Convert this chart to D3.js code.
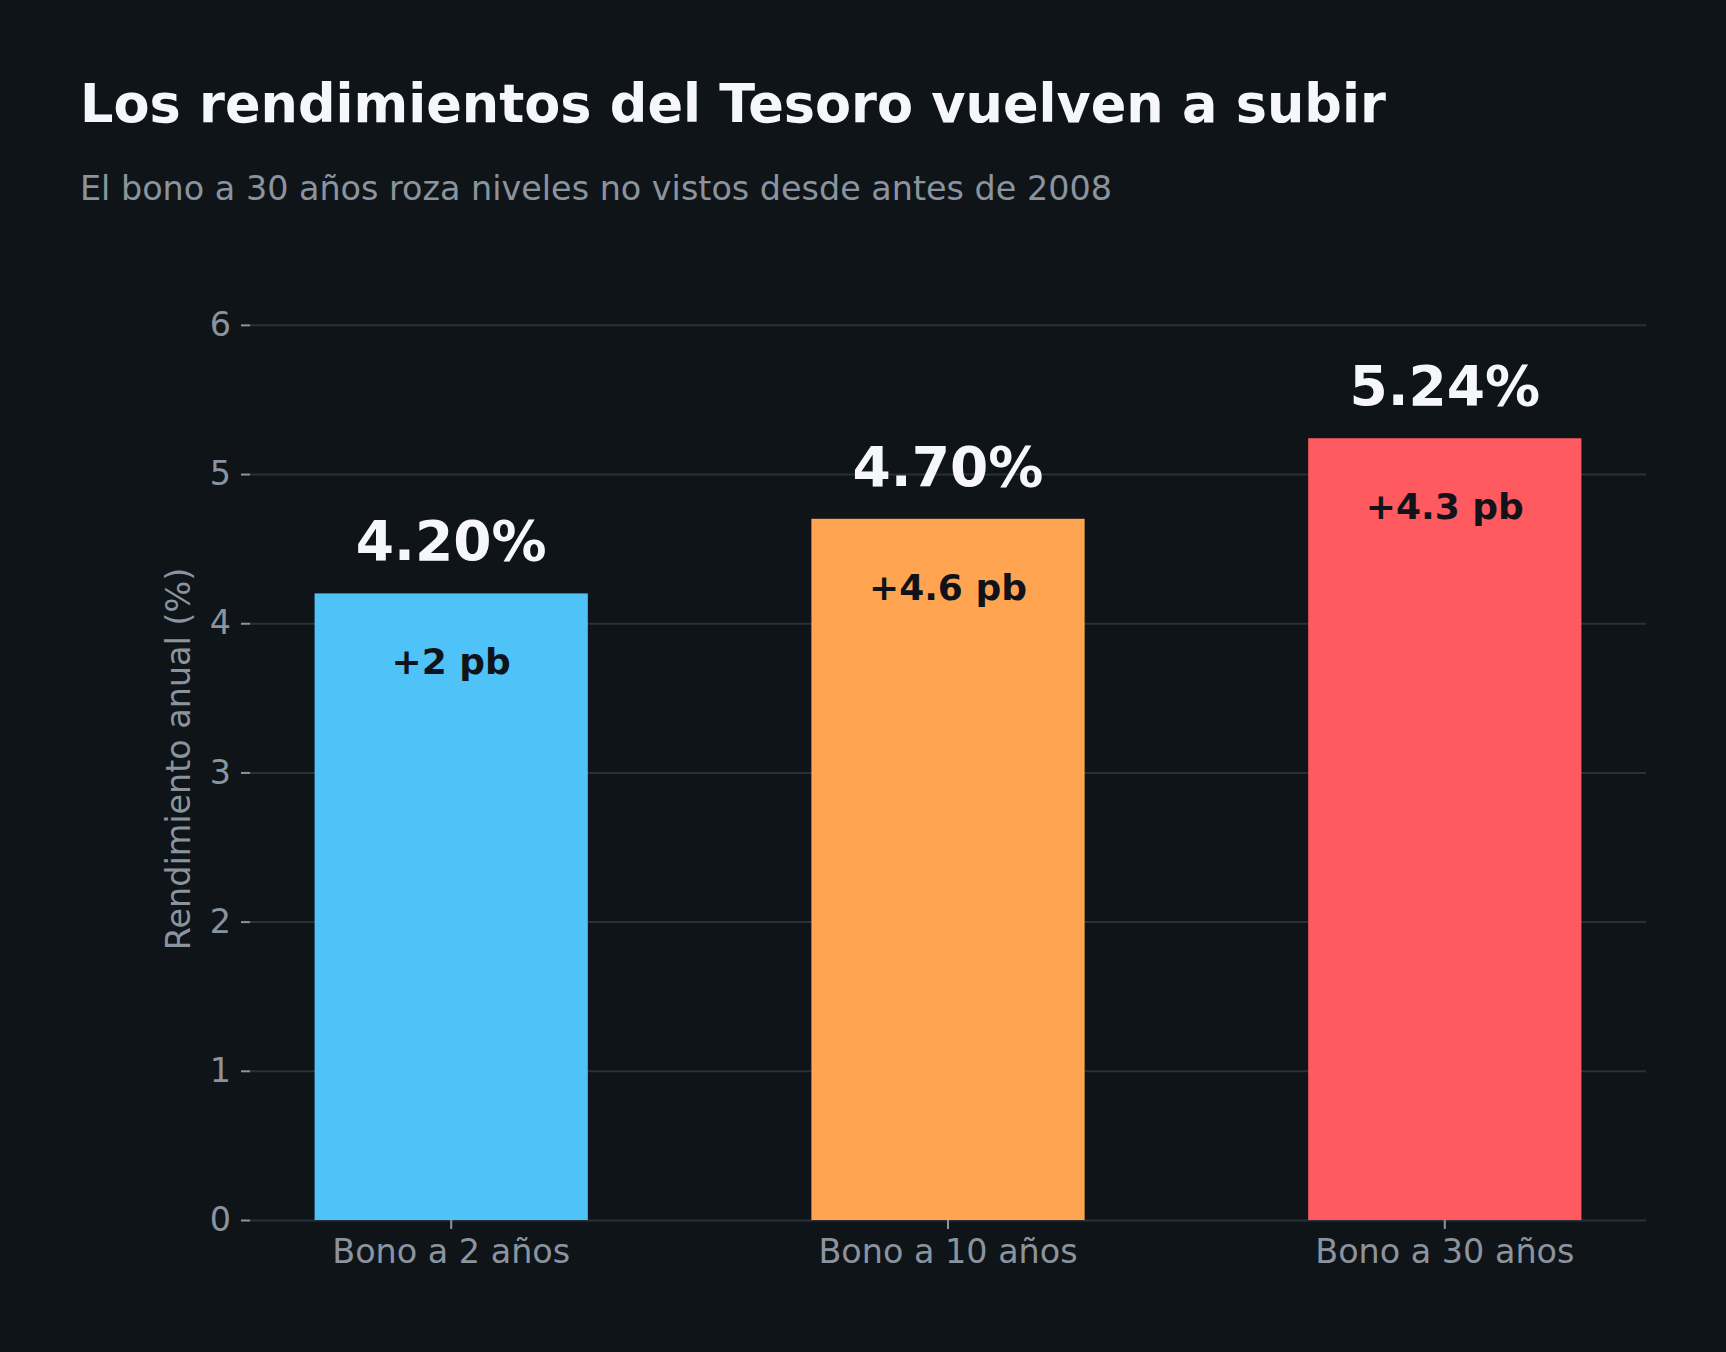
<!DOCTYPE html>
<html>
<head>
<meta charset="utf-8">
<script src="https://cdn.jsdelivr.net/npm/d3@7"></script>
<style>
    html, body { margin: 0; padding: 0; background: #0f1419; }
    svg { display: block; font-family: "DejaVu Sans", sans-serif; }
</style>
</head>
<body>
<script>
//chart data
var categories = ["Bono a 2 años", "Bono a 10 años", "Bono a 30 años"];
var yields = [4.20, 4.70, 5.24];
var changes = ["+2 pb", "+4.6 pb", "+4.3 pb"];
var barColors = ["#4fc3f7", "#ffa552", "#ff5a5f"];
var yTicks = [0, 1, 2, 3, 4, 5, 6];

window.onload = function(){
    var width = 1726,
        height = 1352;

    var left = 250, right = 1646, top = 298, bottom = 1220;

    var svg = d3.select("body")
        .append("svg")
        .attr("width", width)
        .attr("height", height);

    svg.append("rect")
        .attr("width", width)
        .attr("height", height)
        .attr("fill", "#0f1419");

    //title and subtitle
    svg.append("text")
        .attr("x", 80)
        .attr("y", 122)
        .attr("fill", "#f5f7fa")
        .attr("font-size", 52.5)
        .attr("font-weight", "bold")
        .text("Los rendimientos del Tesoro vuelven a subir");

    svg.append("text")
        .attr("x", 80)
        .attr("y", 200)
        .attr("fill", "#8b949e")
        .attr("font-size", 33.4)
        .text("El bono a 30 años roza niveles no vistos desde antes de 2008");

    var x = d3.scaleBand()
        .domain(categories)
        .range([left, right])
        .paddingInner(0.45)
        .paddingOuter(0.13);

    var y = d3.scaleLinear()
        .domain([0, 6.18])
        .range([bottom, top]);

    //grid lines
    var grid = svg.append("g")
        .attr("transform", "translate(" + left + ",0)")
        .call(d3.axisLeft(y).tickValues(yTicks).tickSize(-(right - left)).tickFormat(""));
    grid.select(".domain").remove();
    grid.selectAll("line").attr("stroke", "#2b3037").attr("stroke-width", 2);

    //y axis ticks and labels
    var yAxis = svg.append("g")
        .attr("transform", "translate(" + left + ",0)")
        .call(d3.axisLeft(y).tickValues(yTicks).tickFormat(d3.format("d")).tickSize(9).tickPadding(10));
    yAxis.select(".domain").remove();
    yAxis.selectAll("line").attr("stroke", "#8b949e").attr("stroke-width", 2);
    yAxis.selectAll("text")
        .attr("fill", "#8b949e")
        .attr("font-size", 33.4)
        .attr("font-family", "DejaVu Sans");

    //bars
    svg.selectAll(".bar")
        .data(yields)
        .enter()
        .append("rect")
        .attr("class", "bar")
        .attr("x", function(d, i){ return x(categories[i]); })
        .attr("y", function(d){ return y(d); })
        .attr("width", x.bandwidth())
        .attr("height", function(d){ return y(0) - y(d); })
        .attr("fill", function(d, i){ return barColors[i]; });

    //x axis
    var xAxis = svg.append("g")
        .attr("transform", "translate(0," + bottom + ")")
        .call(d3.axisBottom(x).tickSize(9).tickPadding(10));
    xAxis.select(".domain").remove();
    xAxis.selectAll("line").attr("stroke", "#8b949e").attr("stroke-width", 2);
    xAxis.selectAll("text")
        .attr("fill", "#8b949e")
        .attr("font-size", 33.4)
        .attr("font-family", "DejaVu Sans");

    //value labels above bars
    svg.selectAll(".value")
        .data(yields)
        .enter()
        .append("text")
        .attr("class", "value")
        .attr("x", function(d, i){ return x(categories[i]) + x.bandwidth() / 2; })
        .attr("y", function(d){ return y(d) - 33; })
        .attr("text-anchor", "middle")
        .attr("fill", "#f5f7fa")
        .attr("font-size", 55)
        .attr("font-weight", "bold")
        .text(function(d){ return d.toFixed(2) + "%"; });

    //change labels inside bars
    svg.selectAll(".change")
        .data(yields)
        .enter()
        .append("text")
        .attr("class", "change")
        .attr("x", function(d, i){ return x(categories[i]) + x.bandwidth() / 2; })
        .attr("y", function(d){ return y(d) + 81; })
        .attr("text-anchor", "middle")
        .attr("fill", "#10141a")
        .attr("font-size", 36)
        .attr("font-weight", "bold")
        .text(function(d, i){ return changes[i]; });

    //y axis title
    svg.append("text")
        .attr("transform", "translate(190," + ((top + bottom) / 2) + ") rotate(-90)")
        .attr("text-anchor", "middle")
        .attr("fill", "#8b949e")
        .attr("font-size", 33.4)
        .text("Rendimiento anual (%)");
};
</script>
</body>
</html>
